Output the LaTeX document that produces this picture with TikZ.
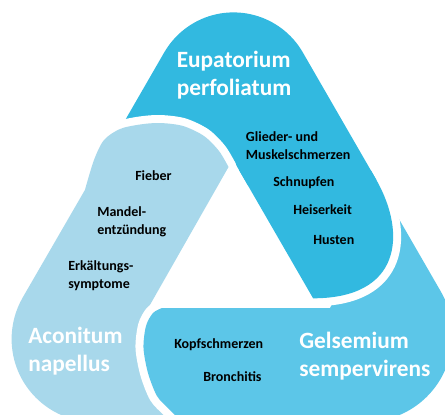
\documentclass[tikz,border=0pt]{standalone}
\usepackage{fontspec}
\setmainfont{Carlito}
\definecolor{eupablau}{RGB}{50,185,224}
\definecolor{gelsblau}{RGB}{92,198,232}
\definecolor{aconblau}{RGB}{168,216,235}
\begin{document}
\begin{tikzpicture}[x=.75pt, y=-.75pt, line join=round,
  gapline/.style={draw=white, line width=12pt, line join=round},
  plant/.style={text=white, font=\fontsize{17.5}{21}\selectfont\bfseries, align=left, anchor=base west, inner sep=0pt},
  symptom/.style={text=black, font=\fontsize{10.5}{13.3}\selectfont\bfseries, align=left, anchor=base west, inner sep=0pt}]
\useasboundingbox (0,0) rectangle (445,414);
%Eupatorium: Spitze und rechte Seite
\fill[eupablau] (176,260) -- (233.5,160.4) -- (247.7,185) -- (379.3,185) -- (302.8,52.4)
  arc[start angle=330, end angle=210, radius=80] -- (44.4,260) -- cycle;
%Aconitum: linke Seite
\fill[aconblau, preaction={gapline}] (228.5,167) -- (148.2,308) -- (230,308) -- (230,422) -- (94.6,422)
  arc[start angle=90, end angle=210, radius=83]
  -- plot[smooth] coordinates {(84.9,190) (94,160) (104,140) (120,129) (140,124.5) (160,123) (183,126) (204,136) (219,151) (228.5,167)} -- cycle;
%Gelsemium: untere Seite
\fill[gelsblau, preaction={gapline}] (162,308) -- (330,308) -- (388,200) -- (440.8,291.5)
  arc[start angle=-30, end angle=90, radius=87]
  -- plot[smooth] coordinates {(182,422) (169,409) (157,396) (148,373) (143.5,348) (146,326) (153,313) (162,308)} -- cycle;
%Ende von Eupatorium nochmal oben drauf
\coordinate (ecapa) at (376.4,180);
\coordinate (ecapb) at (313.1,298.3);
\draw[gapline] (ecapa) .. controls (407,234) and (401,298.3) .. (ecapb);
\fill[eupablau] (239,170) -- (370.7,170) -- (ecapa) .. controls (407,234) and (401,298.3) .. (ecapb) -- cycle;
%Namen (Anker = Grundlinie der letzten Zeile)
\node[plant] (eupa) at (176.5,95.7) {Eupatorium\\perfoliatum};
\node[plant] (acon) at (28,371) {Aconitum\\napellus};
\node[plant] (gels) at (299,376) {Gelsemium\\sempervirens};
%Symptome
\node[symptom] (glieder) at (245.7,159.3) {Glieder- und\\Muskelschmerzen};
\node[symptom] (schnupfen) at (273,186) {Schnupfen};
\node[symptom] (heiser) at (293,214) {Heiserkeit};
\node[symptom] (husten) at (313,244) {Husten};
\node[symptom] (fieber) at (135,180) {Fieber};
\node[symptom] (mandel) at (97,234) {Mandel-\\entzündung};
\node[symptom] (erkaelt) at (68,288) {Erkältungs-\\symptome};
\node[symptom] (kopf) at (174,348) {Kopfschmerzen};
\node[symptom] (bronch) at (203,381) {Bronchitis};
\end{tikzpicture}
\end{document}
